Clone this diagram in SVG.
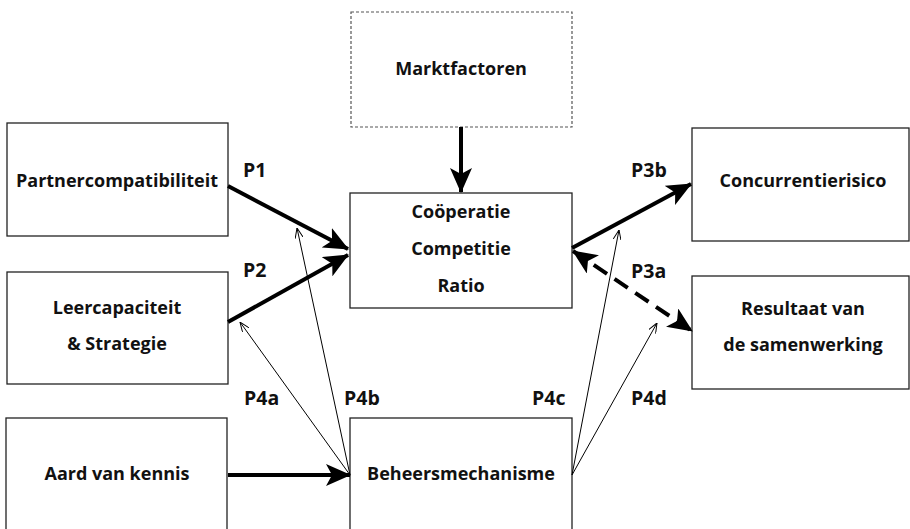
<svg xmlns="http://www.w3.org/2000/svg" width="910" height="529" viewBox="0 0 910 529">
<style>
.box{fill:#fff;stroke:#222;stroke-width:1.3}
.dbox{fill:#fff;stroke:#555;stroke-width:1.2;stroke-dasharray:3,2}
text{font-family:"Open Sans","Liberation Sans",sans-serif;font-weight:bold;font-size:18px;fill:#111;text-anchor:middle}
.lbl{font-size:19.5px;text-anchor:start}
.thick{stroke:#000;stroke-width:4;fill:none}
.thin{stroke:#000;stroke-width:1;fill:none}
</style>
<defs>
<marker id="big" viewBox="0 0 25 22" markerWidth="25" markerHeight="22" refX="24" refY="11" orient="auto-start-reverse" markerUnits="userSpaceOnUse">
<path d="M0,0 L25,11 L0,22 L6,11 z" fill="#000"/>
</marker>
<marker id="small" viewBox="0 0 10 8" markerWidth="10" markerHeight="8" refX="10" refY="4" orient="auto" markerUnits="userSpaceOnUse">
<path d="M0,0 L10,4 L0,8" fill="none" stroke="#000" stroke-width="1"/>
</marker>
</defs>
<g id="marktfactoren"><rect class="dbox" x="351" y="12" width="221" height="115"/><text x="461" y="75">Marktfactoren</text></g>
<g id="partner"><rect class="box" x="7" y="123" width="221" height="113"/><text x="117" y="187">Partnercompatibiliteit</text></g>
<g id="leer"><rect class="box" x="7" y="272" width="221" height="112"/><text x="117" y="314">Leercapaciteit</text><text x="117" y="350">&amp; Strategie</text></g>
<g id="aard"><rect class="box" x="6" y="418" width="221" height="120"/><text x="117" y="480">Aard van kennis</text></g>
<g id="ccr"><rect class="box" x="350" y="193" width="222" height="115"/><text x="461" y="218">Coöperatie</text><text x="461" y="255">Competitie</text><text x="461" y="292">Ratio</text></g>
<g id="beheers"><rect class="box" x="350" y="418" width="222" height="120"/><text x="461" y="480">Beheersmechanisme</text></g>
<g id="concurrentie"><rect class="box" x="692" y="128" width="217" height="113"/><text x="803" y="187">Concurrentierisico</text></g>
<g id="resultaat"><rect class="box" x="692" y="276" width="217" height="113"/><text x="803" y="315">Resultaat van</text><text x="803" y="351">de samenwerking</text></g>
<g id="connectors">
<line class="thick" x1="461" y1="127" x2="461" y2="192" marker-end="url(#big)"/>
<line class="thick" x1="228" y1="186" x2="348" y2="249" marker-end="url(#big)"/>
<line class="thick" x1="228" y1="322" x2="348" y2="255" marker-end="url(#big)"/>
<line class="thick" x1="572" y1="248" x2="691" y2="184" marker-end="url(#big)"/>
<line class="thick" x1="573" y1="251" x2="692" y2="331" stroke-dasharray="16,9" marker-start="url(#big)" marker-end="url(#big)"/>
<line class="thick" x1="228" y1="475" x2="350" y2="475" marker-end="url(#big)"/>
<line class="thin" x1="350" y1="475" x2="240" y2="322" marker-end="url(#small)"/>
<line class="thin" x1="350" y1="475" x2="297" y2="228" marker-end="url(#small)"/>
<line class="thin" x1="572" y1="475" x2="619" y2="230" marker-end="url(#small)"/>
<line class="thin" x1="572" y1="475" x2="657" y2="323" marker-end="url(#small)"/>
</g>
<g id="labels">
<text class="lbl" x="243" y="177">P1</text>
<text class="lbl" x="243" y="277">P2</text>
<text class="lbl" x="631" y="177">P3b</text>
<text class="lbl" x="631" y="278">P3a</text>
<text class="lbl" x="244" y="405">P4a</text>
<text class="lbl" x="344" y="405">P4b</text>
<text class="lbl" x="532" y="405">P4c</text>
<text class="lbl" x="631" y="405">P4d</text>
</g>
</svg>
